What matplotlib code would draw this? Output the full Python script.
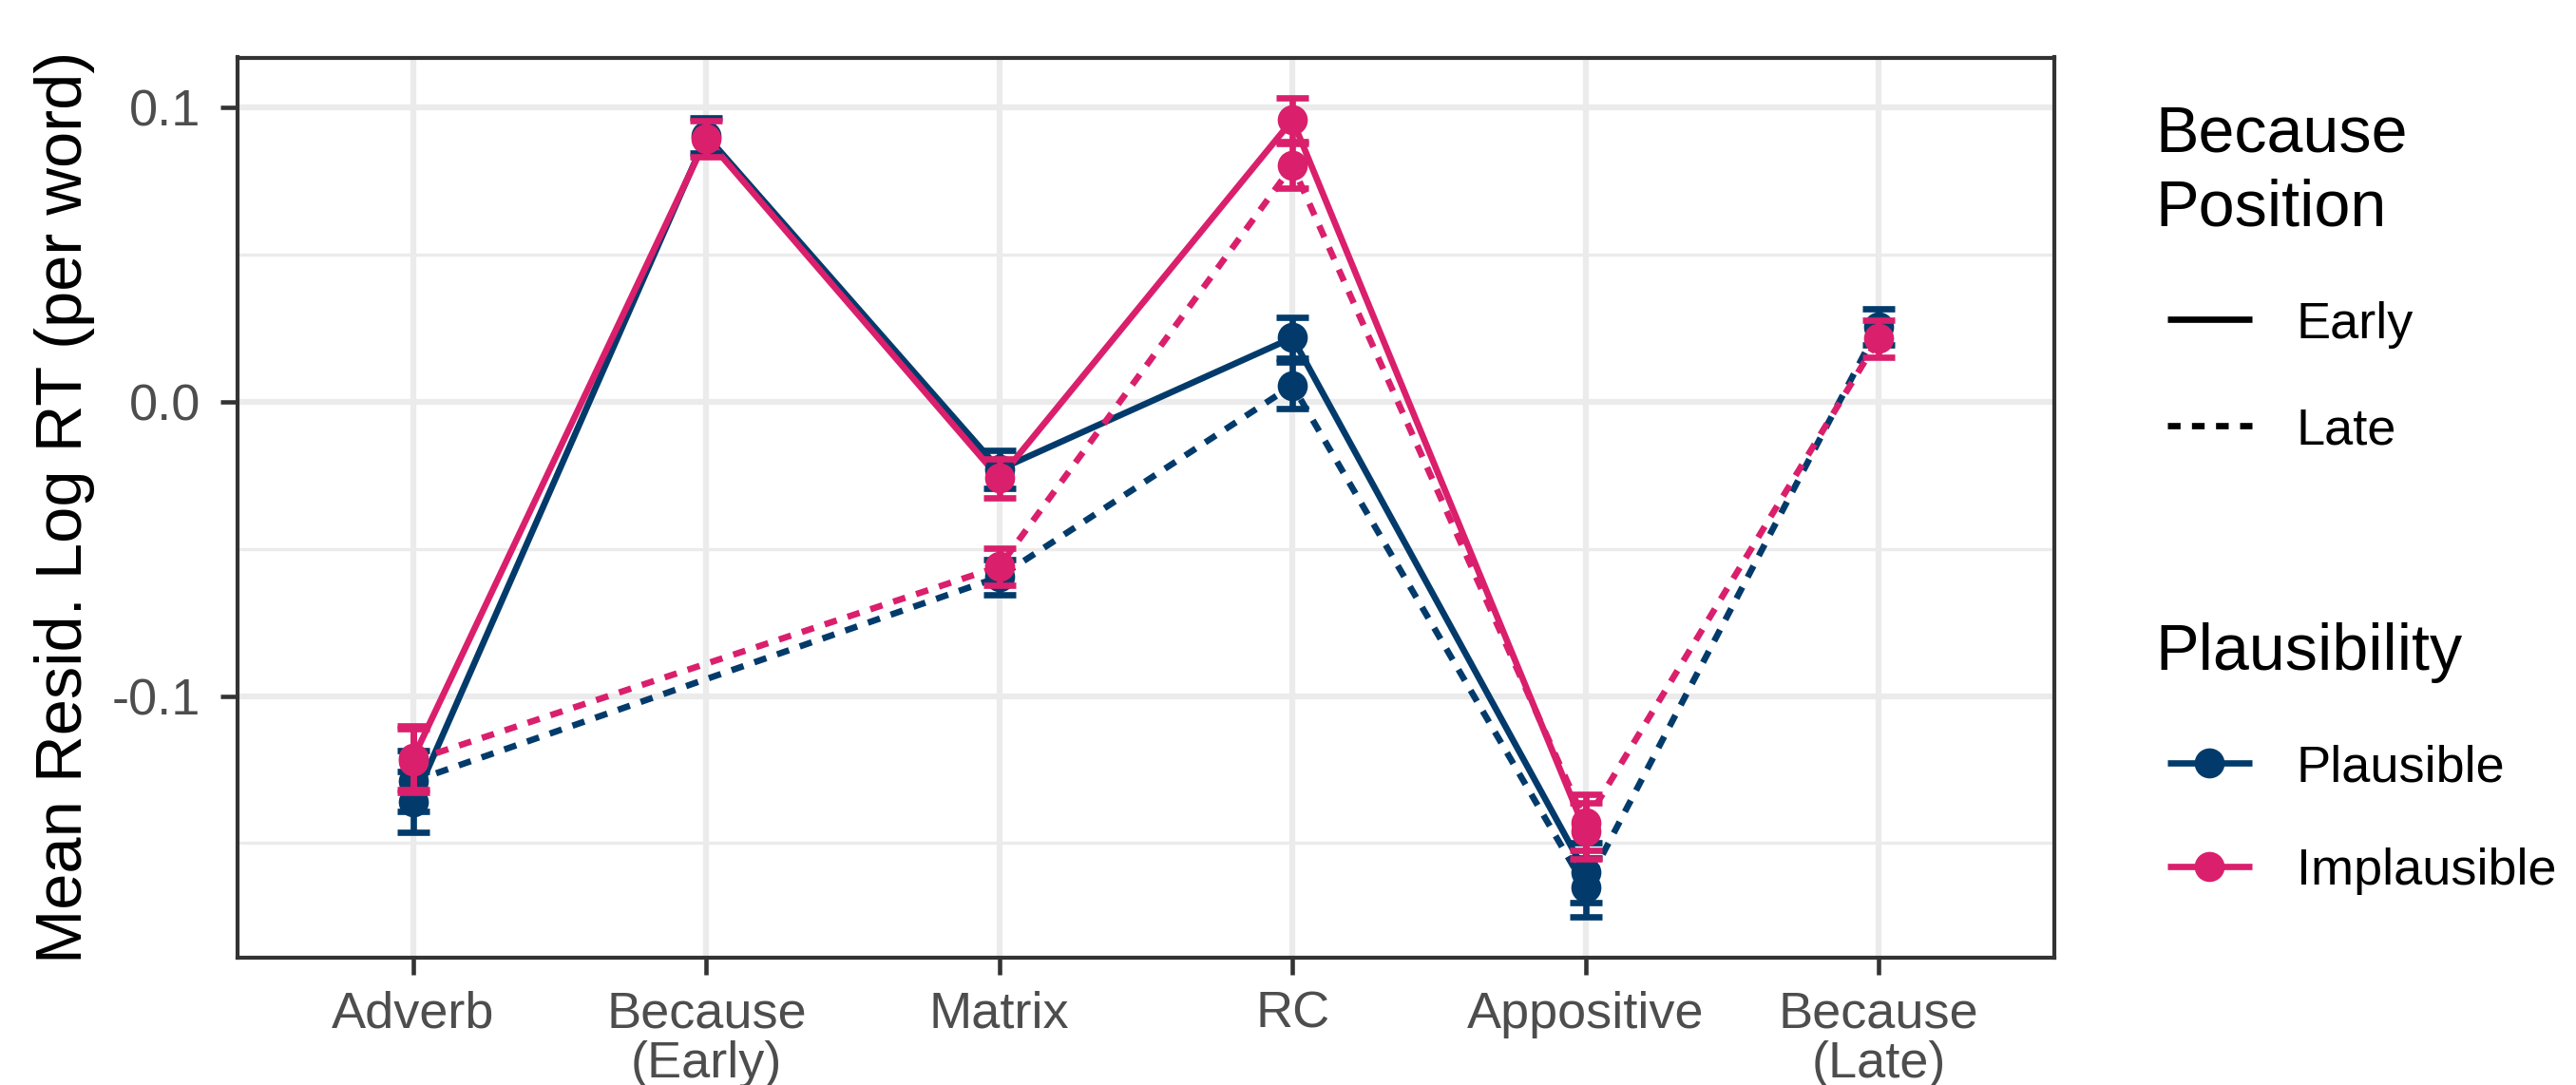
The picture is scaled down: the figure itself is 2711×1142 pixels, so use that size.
import numpy as np
import matplotlib
matplotlib.use("Agg")
import matplotlib.pyplot as plt
from matplotlib.lines import Line2D

plt.rcParams['font.family'] = ['Liberation Sans', 'DejaVu Sans']

nan = np.nan
categories = ["Adverb", "Because\n(Early)", "Matrix", "RC", "Appositive", "Because\n(Late)"]

plaus_early = [-0.136, 0.0905, -0.023, 0.0218, -0.160, nan]
plaus_early_se = [0.0103, 0.006, 0.0065, 0.0069, 0.0102, nan]
plaus_late = [-0.129, nan, -0.0595, 0.0056, -0.165, 0.0255]
plaus_late_se = [0.0103, nan, 0.006, 0.0078, 0.010, 0.0062]
implaus_early = [-0.121, 0.0895, -0.026, 0.0959, -0.146, nan]
implaus_early_se = [0.0107, 0.006, 0.0065, 0.0075, 0.0095, nan]
implaus_late = [-0.122, nan, -0.056, 0.0803, -0.143, 0.0215]
implaus_late_se = [0.0107, nan, 0.0063, 0.0077, 0.0095, 0.0062]

NAVY = '#023b6b'
PINK = '#da1f6c'
W, H = 2712, 1142
DPI = 300
fig = plt.figure(figsize=(W / DPI, H / DPI), dpi=DPI)
ax = fig.add_axes([250 / W, 1 - 1008 / H, (2162 - 250) / W, (1008 - 60.5) / H])

x = np.arange(len(categories))
LW = 1.6
DASH = (0, (2.0, 1.8))

series = [
    (plaus_early, plaus_early_se, NAVY, '-'),
    (plaus_late, plaus_late_se, NAVY, DASH),
    (implaus_early, implaus_early_se, PINK, '-'),
    (implaus_late, implaus_late_se, PINK, DASH),
]

for i, (vals, se, col, ls) in enumerate(series):
    v = np.array(vals, dtype=float)
    m = ~np.isnan(v)
    ax.plot(x[m], v[m], color=col, lw=LW, linestyle=ls, zorder=3 + i * 0.1,
            solid_capstyle='butt', dash_capstyle='butt')

z = 5
for col_group in ([series[0], series[1]], [series[2], series[3]]):
    for vals, se, col, ls in col_group:
        v = np.array(vals, dtype=float)
        s = np.array(se, dtype=float)
        m = ~np.isnan(v)
        ax.errorbar(x[m], v[m], yerr=s[m], fmt='none', ecolor=col, elinewidth=LW,
                    capsize=4.0, capthick=LW, zorder=z)
        z += 0.1
    for vals, se, col, ls in col_group:
        v = np.array(vals, dtype=float)
        m = ~np.isnan(v)
        ax.plot(x[m], v[m], linestyle='none', marker='o', markersize=7.6,
                color=col, markeredgewidth=0, zorder=z)
        z += 0.1

ax.set_xlim(-0.6, 5.6)
ax.set_ylim(-0.189, 0.1171)
ax.set_xticks(x)
ax.set_xticklabels(categories, linespacing=1.05)
ax.set_yticks([-0.1, 0.0, 0.1])
ax.set_yticklabels(["-0.1", "0.0", "0.1"])
ax.set_yticks([-0.15, -0.05, 0.05], minor=True)

ax.grid(True, which='major', color='#ebebeb', lw=1.5, zorder=0)
ax.grid(True, which='minor', axis='y', color='#ebebeb', lw=0.8, zorder=0)
ax.set_axisbelow(True)
for sp in ax.spines.values():
    sp.set_color('#333333')
    sp.set_linewidth(1.0)
ax.tick_params(axis='both', which='major', length=4.3, width=1.1, color='#333333',
               labelcolor='#4d4d4d', labelsize=13, pad=5.0)
ax.tick_params(axis='x', which='major', pad=4.0)
ax.tick_params(axis='y', which='minor', length=0)

fig.text(68 / W, 1 - 534 / H, "Mean Resid. Log RT (per word)", rotation=90,
         ha='center', va='center', fontsize=16.5, color='black')

def fx(px):
    return px / W

def fy(py):
    return 1 - py / H

# legend: Because Position
fig.text(fx(2268), fy(160), "Because", fontsize=16.4, va='baseline', ha='left')
fig.text(fx(2268), fy(238), "Position", fontsize=16.4, va='baseline', ha='left')
fig.add_artist(Line2D([fx(2281), fx(2370)], [fy(336), fy(336)], color='black', lw=LW,
                      transform=fig.transFigure, solid_capstyle='butt'))
fig.add_artist(Line2D([fx(2281), fx(2370)], [fy(448), fy(448)], color='black', lw=LW,
                      linestyle=DASH, transform=fig.transFigure, dash_capstyle='butt'))
fig.text(fx(2417), fy(356), "Early", fontsize=13, va='baseline', ha='left')
fig.text(fx(2417), fy(468), "Late", fontsize=13, va='baseline', ha='left')

# legend: Plausibility
fig.text(fx(2268), fy(705), "Plausibility", fontsize=16.4, va='baseline', ha='left')
for yy, col, lab in [(803, NAVY, "Plausible"), (912, PINK, "Implausible")]:
    fig.add_artist(Line2D([fx(2281), fx(2370)], [fy(yy), fy(yy)], color=col, lw=LW,
                          transform=fig.transFigure, solid_capstyle='butt'))
    fig.add_artist(Line2D([fx(2325.5)], [fy(yy)], color=col, marker='o', markersize=7.6,
                          markeredgewidth=0, linestyle='none', transform=fig.transFigure))
    fig.text(fx(2417), fy(yy + 19.5), lab, fontsize=13, va='baseline', ha='left')

fig.savefig("out.png", dpi=DPI)
